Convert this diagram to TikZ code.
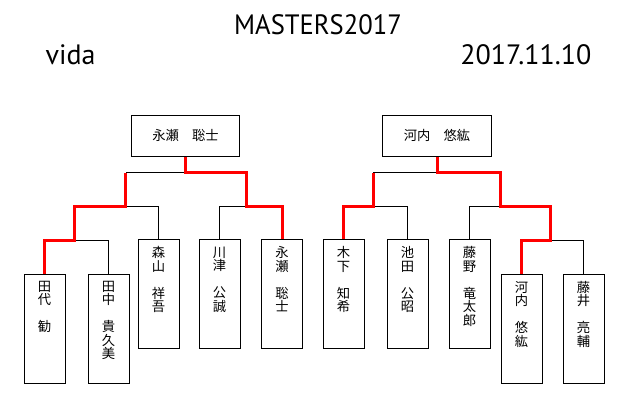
\documentclass[tikz,border=0pt]{standalone}
\usepackage{fontspec}
\setmainfont{PT Sans}
\newfontfamily\cjk{Noto Sans CJK JP}
\begin{document}
\begin{tikzpicture}[x=1pt,y=-1pt,
  headtxt/.style={font=\fontsize{28}{30}\selectfont, anchor=base, inner sep=0},
  topbox/.style={draw, line width=1pt, inner sep=0, minimum width=108pt, minimum height=41pt,
    font=\cjk\fontsize{13.3}{13.5}\selectfont},
  pbox/.style={draw, line width=1pt, inner sep=0, anchor=north west, minimum width=41pt, minimum height=109pt},
  vname/.style={font=\cjk\fontsize{13.3}{13.5}\selectfont, align=center, inner sep=0, anchor=north},
  lose/.style={draw=black, line width=1pt},
  win/.style={draw=red, line width=3pt}]
\useasboundingbox (0,0) rectangle (620,400);
% headers
\node[headtxt, xscale=0.95, transform shape] (title) at (318,34.7) {MASTERS2017};
\node[headtxt] (club) at (70.5,64.3) {vida};
\node[headtxt] (date) at (525.8,64.3) {2017.11.10};
% top boxes
\node[topbox] (TL) at (185.5,135.5) {永瀬　聡士};
\node[topbox, minimum width=109pt] (TR) at (437,135.5) {河内　悠紘};
% player boxes
\node[pbox] (L1) at (23.5,273.5) {};
\node[pbox] (L2) at (87.5,273.5) {};
\node[pbox] (L3) at (137.5,239) {};
\node[pbox] (L4) at (198.5,239) {};
\node[pbox] (L5) at (261,239) {};
\node[pbox] (R1) at (322.5,239) {};
\node[pbox] (R2) at (386.5,239) {};
\node[pbox] (R3) at (448.5,239) {};
\node[pbox] (R4) at (500.5,273.5) {};
\node[pbox] (R5) at (562.5,273.5) {};
% names
\node[vname] (L1t) at ([yshift=-7.5pt]L1.north) {田\\代\\　\\勧};
\node[vname] (L2t) at ([yshift=-7.5pt]L2.north) {田\\中\\　\\貴\\久\\美};
\node[vname] (L3t) at ([yshift=-7.5pt]L3.north) {森\\山\\　\\祥\\吾};
\node[vname] (L4t) at ([yshift=-7.5pt]L4.north) {川\\津\\　\\公\\誠};
\node[vname] (L5t) at ([yshift=-7.5pt]L5.north) {永\\瀬\\　\\聡\\士};
\node[vname] (R1t) at ([yshift=-7.5pt]R1.north) {木\\下\\　\\知\\希};
\node[vname] (R2t) at ([yshift=-7.5pt]R2.north) {池\\田\\　\\公\\昭};
\node[vname] (R3t) at ([yshift=-7.5pt]R3.north) {藤\\野\\　\\竜\\太\\郎};
\node[vname] (R4t) at ([yshift=-7.5pt]R4.north) {河\\内\\　\\悠\\紘};
\node[vname] (R5t) at ([yshift=-7.5pt]R5.north) {藤\\井\\　\\亮\\輔};
% junction coordinates
\coordinate (cL3) at (74,240.3);
\coordinate (cL2a) at (125.7,206);
\coordinate (cL1a) at (125.7,172.7);
\coordinate (cL2b) at (246.7,206);
\coordinate (cL1) at (185.5,172.7);
\coordinate (cR2a) at (373.3,206);
\coordinate (cR1a) at (373.3,172.7);
\coordinate (cR1) at (437,172.7);
\coordinate (cR2b) at (500,206);
\coordinate (cR3) at (550.7,240.3);
% losing branches
\draw[lose] (cL3) -| (L2.north);
\draw[lose] (cL2a) -| (L3.north);
\draw[lose] (cL2b) -| (L4.north);
\draw[lose] (cL1) -- (cL1a);
\draw[lose] (cR2a) -| (R2.north);
\draw[lose] (cR1a) -- (cR1);
\draw[lose] (cR2b) -| (R3.north);
\draw[lose] (cR3) -| (R5.north);
% winning paths
\draw[win] (L1.north) |- (cL3) |- (cL2a) -- (cL1a);
\draw[win] (TL.south) -- (cL1) -| (cL2b) -| (L5.north);
\draw[win] (R1.north) |- (cR2a) -- (cR1a);
\draw[win] (TR.south) -- (cR1) -| (cR2b) -| (cR3) -| (R4.north);
\end{tikzpicture}
\end{document}
